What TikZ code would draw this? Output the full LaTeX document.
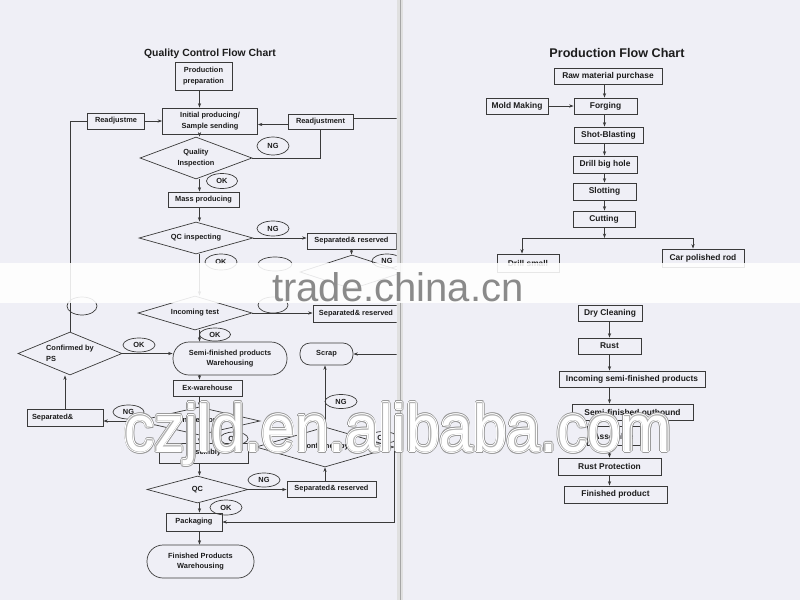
\documentclass[tikz,border=0pt]{standalone}
\usepackage{fontspec}
\setmainfont{Liberation Sans}
\newfontfamily\wmfont{Liberation Sans}
\usetikzlibrary{shapes.geometric,arrows.meta}
\definecolor{paper}{HTML}{EFEFF6}
\definecolor{ink}{HTML}{3A3A3A}
\definecolor{txt}{HTML}{1C1C1C}
\definecolor{wmgray}{HTML}{9A9A9A}
\definecolor{wminner}{HTML}{B2B2B2}
\definecolor{wmtrade}{HTML}{8A8A8A}
\newcommand\wmstr{\scalebox{0.915}[1]{czjld.en.alibaba.com}}
\begin{document}
\begin{tikzpicture}[x=1pt,y=-1pt,
  line/.style={draw=ink,line width=0.7pt},
  arr/.style={line,-{Stealth[length=4.5pt,width=3.2pt]}},
  sz/.style 2 args={minimum width=#1pt,minimum height=#2pt},
  bx/.style={draw=ink,line width=0.7pt,inner sep=0pt,text=txt,align=center,
    font=\fontsize{7.4}{10.5}\selectfont\bfseries},
  bxR/.style={bx,font=\fontsize{8.4}{10}\selectfont\bfseries},
  dia/.style={bx,shape=diamond},
  oval/.style={bx,shape=ellipse},
  wm/.style={anchor=base west,inner sep=0pt,font=\wmfont\fontsize{66}{66}\selectfont}]
\useasboundingbox (0,0) rectangle (800,600);
\fill[paper] (0,0) rectangle (800,600);
\fill[black!12] (397,0) rectangle (403,600);
\draw[black!35,line width=0.8pt] (400,0) -- (400,600);

% ---------------- left page ----------------
\begin{scope}
\clip (0,0) rectangle (396.5,600);
\coordinate (cL) at (199.5,0);
\node[font=\fontsize{10.4}{12}\selectfont\bfseries,text=txt] (t1) at (210,54) {Quality Control Flow Chart};
\node[bx,sz={57}{28}] (prep) at (203.5,76) {Production\\preparation};
\node[bx,sz={95}{26}] (init) at (210,121) {Initial producing/\\Sample sending};
\node[bx,sz={57}{16}] (readjL) at (116,121) {Readjustme};
\node[bx,sz={65}{15}] (readjR) at (320.5,121.5) {Readjustment};
\node[dia,sz={112}{42},aspect=2.67] (qi) at (196,158) {Quality\\Inspection};
\node[oval,sz={32}{18}] (ng1) at (273,146) {NG};
\node[oval,sz={31}{15}] (ok1) at (222,181) {OK};
\node[bx,sz={71}{15}] (mass) at (203.5,199.5) {Mass producing};
\node[dia,sz={114}{32},aspect=3.56] (qc1) at (196,238) {QC inspecting};
\node[oval,sz={32}{15}] (ng2) at (273,228.5) {NG};
\node[bx,sz={89}{16}] (sep1) at (351.5,241) {Separated\& reserved};
\node[dia,sz={104}{34},aspect=3.06] (hid) at (352,272) {};
\node[oval,sz={30}{14}] (ng3) at (387,261) {NG};
\node[oval,sz={32}{16}] (ok2) at (221,262) {OK};
\node[oval,sz={34}{14}] (e1) at (275,264) {};
\node[oval,sz={30}{18}] (e2) at (82,306) {};
\node[oval,sz={30}{16}] (e3) at (273,305) {};
\node[dia,sz={114}{34},aspect=3.35] (inc) at (195,313) {Incoming test};
\node[bx,sz={86}{17}] (sep2) at (356,313.5) {Separated\& reserved};
\node[oval,sz={31}{13}] (ok3) at (215,334.5) {OK};
\node[bx,sz={114}{33},rounded corners=16pt] (sfw) at (230,358.5) {Semi-finished products\\Warehousing};
\node[dia,sz={104}{43},aspect=2.42,align=left] (conf) at (70,353.5) {Confirmed by\\PS};
\node[oval,sz={32}{14}] (ok4) at (139,345) {OK};
\node[bx,sz={69}{16}] (exw) at (207.5,388) {Ex-warehouse};
\node[dia,sz={122}{28},aspect=4.36] (insp) at (199,421) {Inspection};
\node[oval,sz={31}{14}] (ng5) at (128.5,412) {NG};
\node[bx,sz={76}{17},inner xsep=5pt,text width=66pt,align=left] (sep3) at (65,417.5) {Separated\&};
\node[oval,sz={28}{13}] (ok6) at (234,438.5) {OK};
\node[bx,sz={89}{20}] (asm) at (203.5,453) {Assembly};
\node[dia,sz={138}{40},aspect=3.45] (conf2) at (325,447) {Confirmed by};
\node[oval,sz={28}{12}] (ok7) at (383,437.5) {OK};
\node[bx,sz={53}{22},rounded corners=10pt] (scrap) at (326.5,354) {Scrap};
\node[oval,sz={32}{14}] (ng6) at (341,401.5) {NG};
\node[dia,sz={101}{27},aspect=3.74] (qc2) at (197.5,489.5) {QC};
\node[oval,sz={32}{14}] (ng7) at (264,480) {NG};
\node[bx,sz={89}{16}] (sep4) at (331.5,489) {Separated\& reserved};
\node[oval,sz={32}{15}] (ok8) at (226,507.5) {OK};
\node[bx,sz={56}{18}] (pack) at (194,522) {Packaging};
\node[bx,sz={107}{33},rounded corners=16pt] (fin) at (200.5,561.5) {Finished Products\\Warehousing};
\coordinate (eA) at (398,118);
\coordinate (eB) at (398,354);

\draw[arr] (prep.south -| cL) -- (init.north -| cL);
\draw[arr] (readjL.east) -- (init.west);
\draw[line] (conf.north) |- (readjL.west);
\draw[arr] ([yshift=-3pt]readjR.west) -- ([yshift=-3pt]readjR.west -| init.east);
\draw[line] (readjR.east |- eA) -- (eA);
\draw[line] (qi.east) -| (readjR.south);
\draw[arr] (init.south -| cL) -- (qi.north -| cL);
\draw[arr] (qi.south -| cL) -- (mass.north -| cL);
\draw[arr] (mass.south -| cL) -- (qc1.north -| cL);
\draw[arr] (qc1.east) -- (qc1.east -| sep1.west);
\draw[arr] (sep1.south) -- (sep1.south |- hid.north);
\draw[arr] (qc1.south -| cL) -- (inc.north -| cL);
\draw[arr] (inc.east) -- (inc.east -| sep2.west);
\draw[arr] (inc.south -| cL) -- (sfw.north -| cL);
\draw[arr] (conf.east) -- (conf.east -| sfw.west);
\draw[arr] (sfw.south -| cL) -- (exw.north -| cL);
\draw[arr] (exw.south -| cL) -- (insp.north -| cL);
\draw[arr] (insp.west) -- (insp.west -| sep3.east);
\draw[arr] (sep3.north) -- (sep3.north |- conf.south);
\draw[arr] (insp.south -| cL) -- (asm.north -| cL);
\draw[arr] (asm.south -| cL) -- (qc2.north -| cL);
\draw[arr] (qc2.east) -- (qc2.east -| sep4.west);
\draw[arr] (sep4.north -| conf2.south) -- (conf2.south);
\draw[arr] (conf2.north) -- (conf2.north |- scrap.south);
\draw[arr] (eB) -- (scrap.east);
\draw[arr] (conf2.east) -- (conf2.east |- pack.east) -- (pack.east);
\draw[arr] (qc2.south -| cL) -- (pack.north -| cL);
\draw[arr] (pack.south -| cL) -- (fin.north -| cL);
\end{scope}

% ---------------- right page ----------------
\coordinate (cR1) at (604.5,0);
\coordinate (cR2) at (609.5,0);
\node[font=\fontsize{12.6}{14}\selectfont\bfseries,text=txt] (t2) at (617,53) {Production Flow Chart};
\node[bxR,sz={108}{16}] (raw) at (608,76) {Raw material purchase};
\node[bxR,sz={63}{16}] (forg) at (605.5,106) {Forging};
\node[bxR,sz={62}{16}] (mold) at (517,106) {Mold Making};
\node[bxR,sz={69}{16}] (shot) at (608.5,135) {Shot-Blasting};
\node[bxR,sz={64}{17}] (drill) at (605,164.5) {Drill big hole};
\node[bxR,sz={63}{17}] (slot) at (604.5,191.5) {Slotting};
\node[bxR,sz={62}{16}] (cut) at (604,219) {Cutting};
\node[bxR,sz={62}{18}] (dsmall) at (528,263) {Drill small};
\node[bxR,sz={82}{18}] (car) at (703,258) {Car polished rod};
\node[bxR,sz={64}{16}] (dry) at (610,313) {Dry Cleaning};
\node[bxR,sz={63}{16}] (rust) at (609.5,346) {Rust};
\node[bxR,sz={146}{16}] (incR) at (632,379) {Incoming semi-finished products};
\node[bxR,sz={121}{16}] (sfo) at (632.5,412) {Semi-finished outbound};
\node[bxR,sz={53}{19}] (asmR) at (613.5,436) {Assemble};
\node[bxR,sz={103}{17}] (rp) at (609.5,466.5) {Rust Protection};
\node[bxR,sz={103}{17}] (fp) at (615.5,494.5) {Finished product};
\coordinate (jn) at (604.5,238);
\coordinate (jL) at (522,238);
\coordinate (jR) at (693,238);

\draw[arr] (raw.south -| cR1) -- (forg.north -| cR1);
\draw[arr] (mold.east) -- (forg.west);
\draw[arr] (forg.south -| cR1) -- (shot.north -| cR1);
\draw[arr] (shot.south -| cR1) -- (drill.north -| cR1);
\draw[arr] (drill.south -| cR1) -- (slot.north -| cR1);
\draw[arr] (slot.south -| cR1) -- (cut.north -| cR1);
\draw[arr] (cut.south -| cR1) -- (jn);
\draw[line] (jL) -- (jR);
\draw[arr] (jL) -- (jL |- dsmall.north);
\draw[arr] (jR) -- (jR |- car.north);
\draw[arr] (dry.south -| cR2) -- (rust.north -| cR2);
\draw[arr] (rust.south -| cR2) -- (incR.north -| cR2);
\draw[arr] (incR.south -| cR2) -- (sfo.north -| cR2);
\draw[arr] (sfo.south -| cR2) -- (asmR.north -| cR2);
\draw[arr] (asmR.south -| cR2) -- (rp.north -| cR2);
\draw[arr] (rp.south -| cR2) -- (fp.north -| cR2);

% ---------------- watermarks ----------------
\fill[white,opacity=0.88] (0,263) rectangle (800,303);
\node[anchor=base west,inner sep=0pt,font=\wmfont\fontsize{40}{40}\selectfont,text=wmtrade] (wmt) at (272,301) {trade.china.cn};
\coordinate (wmp) at (124,451);
\foreach \a [count=\i] in {0,22.5,...,337.5}{
  \node[wm,text=wmgray] (wmA\i) at ([shift={(\a:2.2)}]wmp) {\wmstr};
}
\foreach \a [count=\i] in {0,22.5,...,337.5}{
  \node[wm,text=white] (wmB\i) at ([shift={(\a:1.4)}]wmp) {\wmstr};
}
\foreach \a [count=\i] in {0,45,...,315}{
  \node[wm,text=wminner] (wmC\i) at ([shift={(\a:0.6)}]wmp) {\wmstr};
}
\node[wm,text=white] (wmD) at (wmp) {\wmstr};
\end{tikzpicture}
\end{document}
